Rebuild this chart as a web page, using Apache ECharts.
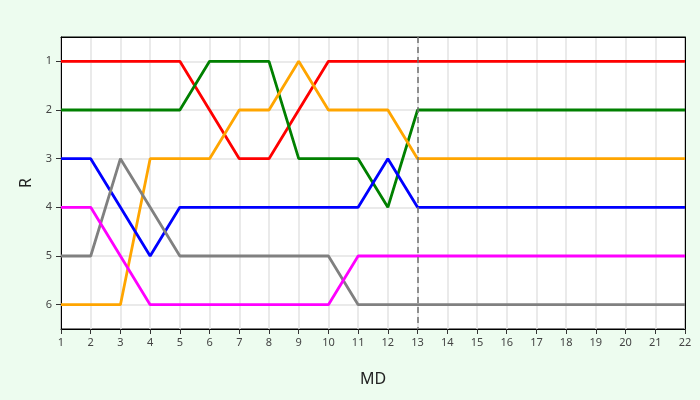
<!DOCTYPE html>
<html>
<head>
<meta charset="utf-8">
<script src="https://cdn.jsdelivr.net/npm/echarts@6/dist/echarts.min.js"></script>
<style>
  html, body { margin: 0; padding: 0; background: #edfcef; }
  #main { width: 700px; height: 400px; }
</style>
</head>
<body>
<div id="main"></div>
<script>
const matchdays = [1, 2, 3, 4, 5, 6, 7, 8, 9, 10, 11, 12, 13, 14, 15, 16, 17, 18, 19, 20, 21, 22]
const rankTicks = [1, 2, 3, 4, 5, 6]
const currentMd = 13

const redRank     = [1, 1, 1, 1, 1, 2, 3, 3, 2, 1, 1, 1, 1, 1, 1, 1, 1, 1, 1, 1, 1, 1]
const greenRank   = [2, 2, 2, 2, 2, 1, 1, 1, 3, 3, 3, 4, 2, 2, 2, 2, 2, 2, 2, 2, 2, 2]
const orangeRank  = [6, 6, 6, 3, 3, 3, 2, 2, 1, 2, 2, 2, 3, 3, 3, 3, 3, 3, 3, 3, 3, 3]
const blueRank    = [3, 3, 4, 5, 4, 4, 4, 4, 4, 4, 4, 3, 4, 4, 4, 4, 4, 4, 4, 4, 4, 4]
const grayRank    = [5, 5, 3, 4, 5, 5, 5, 5, 5, 5, 6, 6, 6, 6, 6, 6, 6, 6, 6, 6, 6, 6]
const magentaRank = [4, 4, 5, 6, 6, 6, 6, 6, 6, 6, 5, 5, 5, 5, 5, 5, 5, 5, 5, 5, 5, 5]

const pair = (arr) => arr.map((v, i) => [matchdays[i], v])

const lineSeries = (name, color, arr) => {
  return {
    name: name,
    type: 'line',
    data: pair(arr),
    showSymbol: false,
    lineStyle: { color: color, width: 2.8 },
    itemStyle: { color: color },
    z: 3
  }
}

const font = 'Noto Sans'
const frameAxis = (pos, extra) => Object.assign({
  type: 'value',
  position: pos,
  axisLine: { show: true, lineStyle: { color: '#000' } },
  axisTick: { show: false },
  axisLabel: { show: false },
  splitLine: { show: false }
}, extra)

const chart = echarts.init(document.getElementById('main'))
chart.setOption({
  backgroundColor: '#edfcef',
  animation: false,
  grid: { left: 61, right: 15, top: 37, bottom: 71, show: true, backgroundColor: '#ffffff', borderColor: '#000', borderWidth: 1 },
  xAxis: [{
    type: 'value',
    min: 1,
    max: 22,
    interval: 1,
    name: 'MD',
    nameLocation: 'middle',
    nameGap: 42,
    nameTextStyle: { fontFamily: font, fontSize: 16, color: '#222' },
    axisLine: { show: true, lineStyle: { color: '#000' } },
    axisTick: { show: true, length: 5, lineStyle: { color: '#333' } },
    axisLabel: { fontFamily: font, fontSize: 11, color: '#444', margin: 8 },
    splitLine: { show: true, lineStyle: { color: '#e3e3e3', width: 1.5 } }
  }, frameAxis('top', { min: 1, max: 22 })],
  yAxis: [{
    type: 'value',
    inverse: true,
    min: 0.5,
    max: 6.5,
    name: 'R',
    nameLocation: 'middle',
    nameGap: 27,
    nameTextStyle: { fontFamily: font, fontSize: 16, color: '#222' },
    axisLine: { show: true, lineStyle: { color: '#000' } },
    axisTick: { show: true, length: 5, lineStyle: { color: '#333' }, customValues: rankTicks },
    axisLabel: { fontFamily: font, fontSize: 11, color: '#444', margin: 9, customValues: rankTicks },
    splitLine: { show: true, lineStyle: { color: '#e3e3e3', width: 1.5 } }
  }, frameAxis('right', { min: 0.5, max: 6.5, inverse: true })],
  series: [
    lineSeries('Red', '#ff0000', redRank),
    lineSeries('Green', '#008000', greenRank),
    lineSeries('Orange', '#ffa500', orangeRank),
    lineSeries('Blue', '#0000ff', blueRank),
    lineSeries('Gray', '#808080', grayRank),
    lineSeries('Magenta', '#ff00ff', magentaRank),
    {
      name: 'now',
      type: 'line',
      data: [],
      silent: true,
      markLine: {
        symbol: 'none',
        silent: true,
        label: { show: false },
        lineStyle: { color: '#707070', width: 1.5, type: [6, 4] },
        data: [{ xAxis: currentMd }]
      },
      z: 5
    }
  ]
})
</script>
</body>
</html>
